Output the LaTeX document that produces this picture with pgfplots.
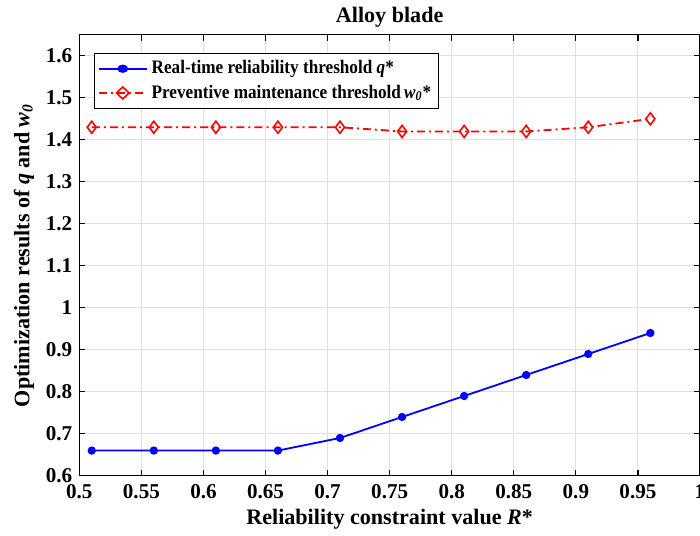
\documentclass[border=0pt]{standalone}
\usepackage{pgfplots}
\pgfplotsset{compat=1.18}
\usepackage{fontspec}
\setmainfont{Liberation Serif}
\newfontfamily\legfont[FakeStretch=0.9]{Liberation Serif}
\begin{document}
\begin{tikzpicture}[trim axis right]
\begin{axis}[
  scale only axis,
  width=309pt, height=219.5pt,
  xmin=0.5, xmax=1, ymin=0.6, ymax=1.65,
  xtick={0.5,0.55,...,1.01},
  ytick={0.6,0.7,...,1.61},
  xticklabels={0.5,0.55,0.6,0.65,0.7,0.75,0.8,0.85,0.9,0.95,1},
  yticklabels={0.6,0.7,0.8,0.9,1,1.1,1.2,1.3,1.4,1.5,1.6},
  tick align=inside,
  tick pos=both,
  major tick length=3pt,
  grid=major,
  grid style={gray!25, line width=0.5pt},
  axis line style={line width=0.6pt},
  every tick/.style={black, line width=0.6pt},
  tick label style={font=\fontsize{10.5}{12}\selectfont\bfseries},
  xticklabel style={yshift=-1pt},
  /pgf/number format/assume math mode=true,
  title={\bfseries Alloy blade},
  title style={font=\fontsize{11}{13}\selectfont, yshift=-5.5pt},
  xlabel={\bfseries Reliability constraint value \textit{R}*},
  ylabel={\bfseries Optimization results of \textit{q} and \textit{w}\textsubscript{\textit{0}}},
  label style={font=\fontsize{11}{13}\selectfont},
  xlabel style={yshift=2pt},
  ylabel style={yshift=-1pt},
  legend style={at={(0.024,0.959)}, anchor=north west, font=\fontsize{9.5}{11}\selectfont\legfont\bfseries, draw=black, line width=0.6pt, inner sep=1.5pt, row sep=0pt},
  legend cell align=left,
  legend image post style={xscale=1.4},
]
\addplot[blue, line width=0.9pt, mark=*, mark size=1.6pt] coordinates {
(0.51,0.66) (0.56,0.66) (0.61,0.66) (0.66,0.66) (0.71,0.69) (0.76,0.74) (0.81,0.79) (0.86,0.84) (0.91,0.89) (0.96,0.94)};
\addlegendentry{Real-time reliability threshold \textit{q}*}
\addplot[red, line width=0.9pt, dash pattern=on 4pt off 2pt on 1pt off 2pt, mark=diamond, mark size=3pt, mark options={solid, line width=0.8pt}] coordinates {
(0.51,1.43) (0.56,1.43) (0.61,1.43) (0.66,1.43) (0.71,1.43) (0.76,1.42) (0.81,1.42) (0.86,1.42) (0.91,1.43) (0.96,1.45)};
\addlegendentry{Preventive maintenance threshold\,\textit{w}\textsubscript{\textit{0}}*}
\end{axis}
\path ([xshift=-39.5pt]current axis.south west);
\end{tikzpicture}
\end{document}
